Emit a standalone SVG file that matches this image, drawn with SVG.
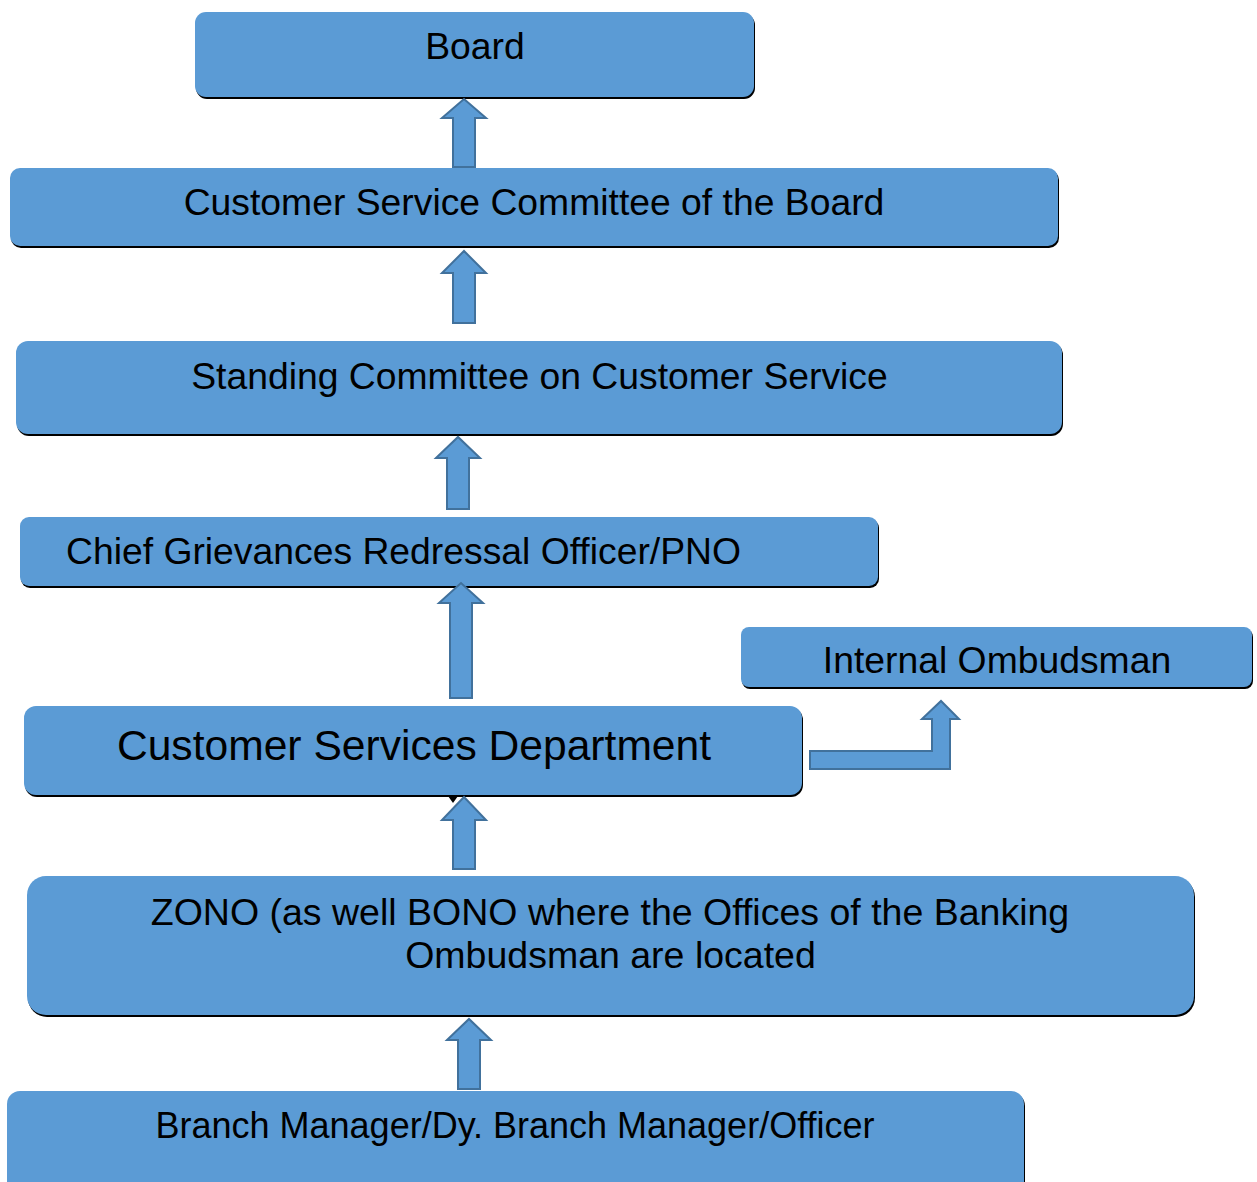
<svg xmlns="http://www.w3.org/2000/svg" width="1257" height="1182" viewBox="0 0 1257 1182">
  <style>
    .box { fill: #5B9BD5; }
    .shadow { fill: #000000; }
    .label { font-family: "Liberation Sans", Arial, sans-serif; font-size: 37.3px; fill: #000000; text-anchor: middle; }
    .big { font-size: 42.6px; }
    .arrow { fill: #5B9BD5; stroke: #41719C; stroke-width: 2; stroke-linejoin: miter; }
  </style>
  <rect width="1257" height="1182" fill="#FFFFFF"/>

  <g id="board">
    <rect class="shadow" x="196" y="14" width="559" height="85" rx="11"/>
    <rect class="box" x="195" y="12" width="559" height="85" rx="11"/>
    <text class="label" x="475" y="59">Board</text>
  </g>

  <g id="customer-service-committee">
    <rect class="shadow" x="11" y="170" width="1048" height="78" rx="10"/>
    <rect class="box" x="10" y="168" width="1048" height="78" rx="10"/>
    <text class="label" x="534" y="215">Customer Service Committee of the Board</text>
  </g>

  <g id="standing-committee">
    <rect class="shadow" x="17" y="343" width="1046" height="93" rx="12"/>
    <rect class="box" x="16" y="341" width="1046" height="93" rx="12"/>
    <text class="label" x="539.5" y="389">Standing Committee on Customer Service</text>
  </g>

  <g id="chief-grievances-officer">
    <rect class="shadow" x="21" y="519" width="858" height="69" rx="9"/>
    <rect class="box" x="20" y="517" width="858" height="69" rx="9"/>
    <text class="label" x="403.5" y="564">Chief Grievances Redressal Officer/PNO</text>
  </g>

  <g id="internal-ombudsman">
    <rect class="shadow" x="742" y="629" width="511" height="60" rx="8"/>
    <rect class="box" x="741" y="627" width="511" height="60" rx="8"/>
    <text class="label" x="997" y="673">Internal Ombudsman</text>
  </g>

  <g id="customer-services-department">
    <rect class="shadow" x="25" y="708" width="778" height="89" rx="12"/>
    <path class="shadow" d="M448,796 L458,796 L453,803 Z"/>
    <rect class="box" x="24" y="706" width="778" height="89" rx="12"/>
    <text class="label big" x="414" y="760">Customer Services Department</text>
  </g>

  <g id="zono">
    <rect class="shadow" x="28" y="878" width="1167" height="139" rx="19"/>
    <rect class="box" x="27" y="876" width="1167" height="139" rx="19"/>
    <text class="label" style="font-size:37.5px" x="610" y="925">ZONO (as well BONO where the Offices of the Banking</text>
    <text class="label" style="font-size:37.5px" x="610.5" y="968">Ombudsman are located</text>
  </g>

  <g id="branch">
    <rect class="shadow" x="8" y="1093" width="1017" height="110" rx="13"/>
    <rect class="box" x="7" y="1091" width="1017" height="110" rx="13"/>
    <text class="label" style="font-size:36px" x="515" y="1138">Branch Manager/Dy. Branch Manager/Officer</text>
  </g>

  <g id="connectors">
    <path class="arrow" d="M453,167 L453,118 L442,118 L464,99 L486,118 L475,118 L475,167 Z"/>
    <path class="arrow" d="M453,323 L453,273 L442,273 L464,251 L486,273 L475,273 L475,323 Z"/>
    <path class="arrow" d="M447,509 L447,458 L436,458 L458,437 L480,458 L469,458 L469,509 Z"/>
    <path class="arrow" d="M450,698 L450,603 L439,603 L461,583 L483,603 L472,603 L472,698 Z"/>
    <path class="arrow" d="M453,869 L453,820 L442,820 L464,797 L486,820 L475,820 L475,869 Z"/>
    <path class="arrow" d="M458,1089 L458,1040 L447,1040 L469,1019 L491,1040 L480,1040 L480,1089 Z"/>
    <path class="arrow" d="M810,751 L932,751 L932,719 L922,719 L941,701 L959,719 L950,719 L950,769 L810,769 Z"/>
  </g>
</svg>
